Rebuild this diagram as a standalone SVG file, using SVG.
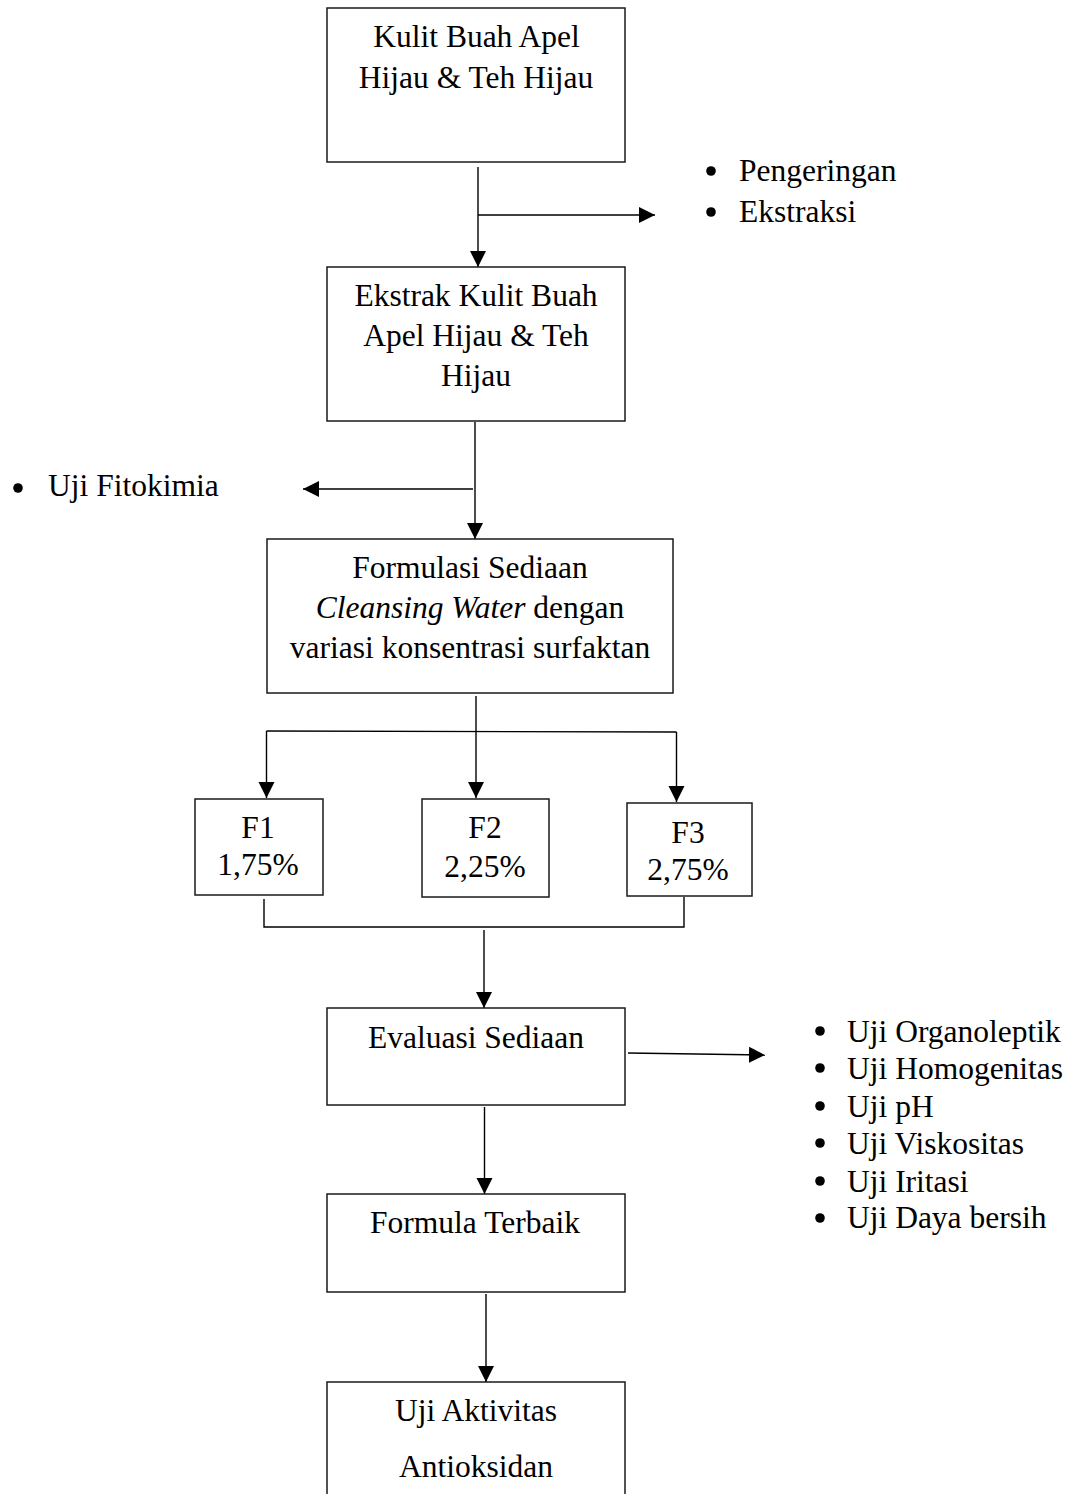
<svg xmlns="http://www.w3.org/2000/svg" width="1076" height="1494" viewBox="0 0 1076 1494">
<style>
  .box { fill: #ffffff; stroke: #1a1a1a; stroke-width: 1.5; }
  .ln { fill: none; stroke: #000000; stroke-width: 1.4; }
  .t { font-family: "Liberation Serif", "Times New Roman", serif; font-size: 31.5px; fill: #000000; }
  .c { text-anchor: middle; }
  .dot { fill: #000000; }
</style>
<defs>
  <marker id="ah" markerUnits="userSpaceOnUse" markerWidth="20" markerHeight="20" refX="16" refY="8" orient="auto" viewBox="0 0 20 20">
    <path d="M0,0 L16,8 L0,16 Z" fill="#000000"/>
  </marker>
</defs>
<rect width="1076" height="1494" fill="#ffffff"/>

<g id="connectors">
  <line class="ln" x1="478" y1="167" x2="478" y2="267" marker-end="url(#ah)"/>
  <line class="ln" x1="478" y1="215" x2="655" y2="215" marker-end="url(#ah)"/>
  <line class="ln" x1="475" y1="422" x2="475" y2="539" marker-end="url(#ah)"/>
  <line class="ln" x1="473" y1="489" x2="303" y2="489" marker-end="url(#ah)"/>
  <line class="ln" x1="476" y1="696" x2="476" y2="798" marker-end="url(#ah)"/>
  <polyline class="ln" points="266.5,731 676.5,732"/>
  <line class="ln" x1="266.5" y1="731" x2="266.5" y2="798" marker-end="url(#ah)"/>
  <line class="ln" x1="676.5" y1="732" x2="676.5" y2="802" marker-end="url(#ah)"/>
  <polyline class="ln" points="264,899 264,927 684,927 684,897"/>
  <line class="ln" x1="484" y1="930" x2="484" y2="1008" marker-end="url(#ah)"/>
  <line class="ln" x1="628" y1="1053" x2="765" y2="1055" marker-end="url(#ah)"/>
  <line class="ln" x1="484.5" y1="1107" x2="484.5" y2="1194" marker-end="url(#ah)"/>
  <line class="ln" x1="486" y1="1294" x2="486" y2="1382" marker-end="url(#ah)"/>
</g>

<g id="n-kulit">
  <rect class="box" x="327" y="8" width="298" height="154"/>
  <text class="t c" x="476.5" y="47">Kulit Buah Apel</text>
  <text class="t c" x="476" y="88">Hijau &amp; Teh Hijau</text>
</g>

<g id="n-proses">
  <circle class="dot" cx="711" cy="171" r="4.8"/>
  <text class="t" x="739" y="181">Pengeringan</text>
  <circle class="dot" cx="711" cy="212" r="4.8"/>
  <text class="t" x="739" y="222">Ekstraksi</text>
</g>

<g id="n-ekstrak">
  <rect class="box" x="327" y="267" width="298" height="154"/>
  <text class="t c" x="476" y="306">Ekstrak Kulit Buah</text>
  <text class="t c" x="476" y="346">Apel Hijau &amp; Teh</text>
  <text class="t c" x="476" y="386">Hijau</text>
</g>

<g id="n-fitokimia">
  <circle class="dot" cx="18" cy="488" r="4.8"/>
  <text class="t" x="48" y="496">Uji Fitokimia</text>
</g>

<g id="n-formulasi">
  <rect class="box" x="267" y="539" width="406" height="154"/>
  <text class="t c" x="470" y="578">Formulasi Sediaan</text>
  <text class="t c" x="470" y="618"><tspan font-style="italic">Cleansing Water</tspan> dengan</text>
  <text class="t c" x="470" y="658">variasi konsentrasi surfaktan</text>
</g>

<g id="n-f1">
  <rect class="box" x="195" y="799" width="128" height="96"/>
  <text class="t c" x="258" y="838">F1</text>
  <text class="t c" x="258" y="875">1,75%</text>
</g>
<g id="n-f2">
  <rect class="box" x="422" y="799" width="127" height="98"/>
  <text class="t c" x="485" y="838">F2</text>
  <text class="t c" x="485" y="877">2,25%</text>
</g>
<g id="n-f3">
  <rect class="box" x="627" y="803" width="125" height="93"/>
  <text class="t c" x="688" y="843">F3</text>
  <text class="t c" x="688" y="880">2,75%</text>
</g>

<g id="n-evaluasi">
  <rect class="box" x="327" y="1008" width="298" height="97"/>
  <text class="t c" x="476" y="1048">Evaluasi Sediaan</text>
</g>

<g id="n-uji">
  <circle class="dot" cx="820" cy="1031" r="4.8"/>
  <text class="t" x="847" y="1042">Uji Organoleptik</text>
  <circle class="dot" cx="820" cy="1068" r="4.8"/>
  <text class="t" x="847" y="1079">Uji Homogenitas</text>
  <circle class="dot" cx="820" cy="1106" r="4.8"/>
  <text class="t" x="847" y="1117">Uji pH</text>
  <circle class="dot" cx="820" cy="1143" r="4.8"/>
  <text class="t" x="847" y="1154">Uji Viskositas</text>
  <circle class="dot" cx="820" cy="1181" r="4.8"/>
  <text class="t" x="847" y="1192">Uji Iritasi</text>
  <circle class="dot" cx="820" cy="1218" r="4.8"/>
  <text class="t" x="847" y="1228">Uji Daya bersih</text>
</g>

<g id="n-terbaik">
  <rect class="box" x="327" y="1194" width="298" height="98"/>
  <text class="t c" x="475" y="1233">Formula Terbaik</text>
</g>

<g id="n-antioksidan">
  <rect class="box" x="327" y="1382" width="298" height="130"/>
  <text class="t c" x="476" y="1421">Uji Aktivitas</text>
  <text class="t c" x="476" y="1477">Antioksidan</text>
</g>
</svg>
